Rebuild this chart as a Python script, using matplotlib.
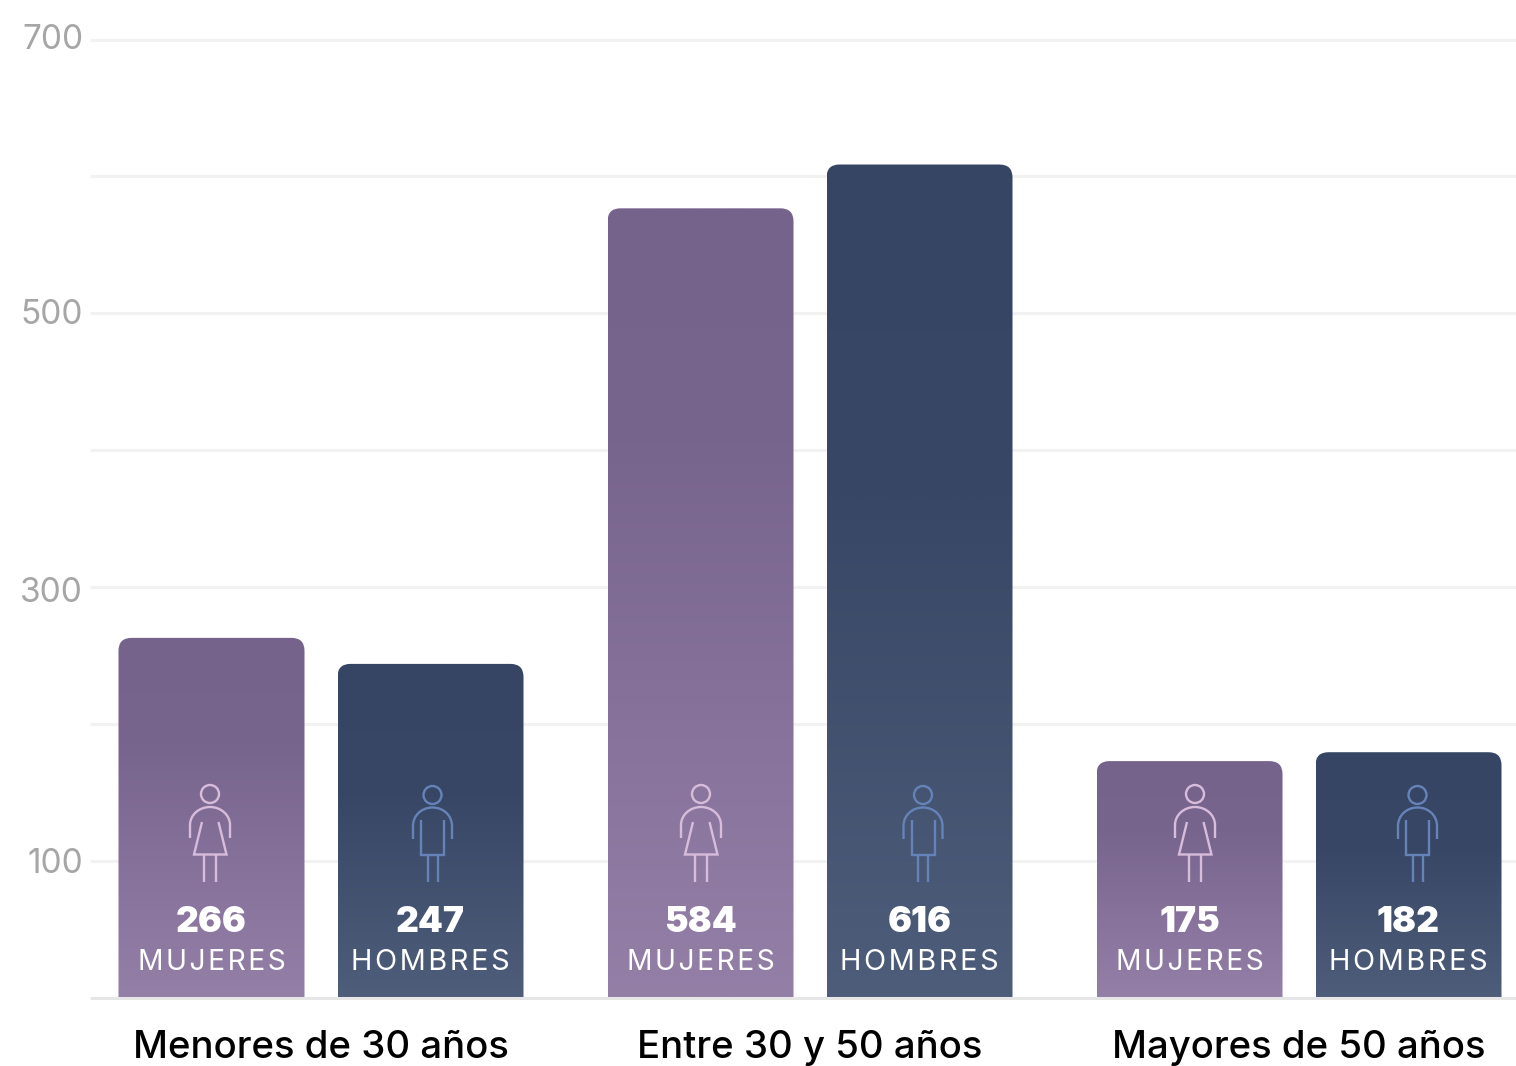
import numpy as np
import matplotlib
matplotlib.use("Agg")
import matplotlib.pyplot as plt
from matplotlib.colors import LinearSegmentedColormap
from matplotlib.path import Path
from matplotlib.patches import PathPatch, Circle
from matplotlib.transforms import Affine2D, ScaledTranslation

# ---------- data ----------
groups = ["Menores de 30 años", "Entre 30 y 50 años", "Mayores de 50 años"]
women_labels = [266, 584, 175]
men_labels = [247, 616, 182]
# heights as drawn against the y axis (the picture's bars sit slightly below their labels)
women_heights = [263, 576.7, 173]
men_heights = [244, 608.7, 179.5]
y_ticks = [100, 200, 300, 400, 500, 600, 700]
y_ticklabels = ["100", "", "300", "", "500", "", "700"]
women_word = "MUJERES"
men_word = "HOMBRES"

W, H = 1516, 1066
DPI = 100
FONT = "Inter"
plt.rcParams["font.family"] = [FONT, "DejaVu Sans"]

fig = plt.figure(figsize=(W / DPI, H / DPI), dpi=DPI, facecolor="white")
ax = fig.add_axes([90 / W, (H - 998) / H, 1426 / W, 958.5 / H])
XLIM = ((90 - 321) / 489, (1516 - 321) / 489)
ax.set_xlim(*XLIM)
ax.set_ylim(0, 700)
for s in ax.spines.values():
    s.set_visible(False)

ax.set_yticks(y_ticks)
ax.set_yticklabels(y_ticklabels, fontsize=24, color="#a6a6a6", fontweight="normal")
ax.tick_params(axis="y", length=0, pad=5)
label_nudge_px = {"100": 1, "300": -2, "500": 2, "700": 3}
for lab in ax.get_yticklabels():
    nudge = label_nudge_px.get(lab.get_text(), 0)
    lab.set_transform(lab.get_transform() + ScaledTranslation(0, nudge / DPI, fig.dpi_scale_trans))
ax.set_xticks(range(len(groups)))
ax.set_xticklabels(groups, fontsize=27.6, color="black", fontweight="medium")
ax.tick_params(axis="x", length=0, pad=23)
for v in y_ticks:
    ax.axhline(v, color="#f2f2f2", lw=2.2, zorder=1, clip_on=False, solid_capstyle="butt")
ax.axhline(0, color="#e6e6e6", lw=2.2, zorder=5, clip_on=False, solid_capstyle="butt")

cm_w = LinearSegmentedColormap.from_list("w", [(0, "#76638b"), (0.3, "#78658e"), (1, "#947fa7")])
cm_m = LinearSegmentedColormap.from_list("m", [(0, "#364564"), (0.4, "#384765"), (1, "#4e5d7a")])
grad = np.linspace(0, 1, 512).reshape(-1, 1)

BAR_W = 186 / 489
OFF = 109.5 / 489
RX, RY = 13 / 489, 13 / (958.5 / 700)


def draw_bar(xc, h, cmap):
    x0, x1 = xc - BAR_W / 2, xc + BAR_W / 2
    verts = [(x0, 0), (x0, h - RY), (x0, h), (x0 + RX, h), (x1 - RX, h), (x1, h), (x1, h - RY), (x1, 0), (x0, 0)]
    codes = [Path.MOVETO, Path.LINETO, Path.CURVE3, Path.CURVE3, Path.LINETO, Path.CURVE3, Path.CURVE3, Path.LINETO, Path.CLOSEPOLY]
    patch = PathPatch(Path(verts, codes), fc="none", ec="none", transform=ax.transData)
    ax.add_patch(patch)
    im = ax.imshow(grad, cmap=cmap, extent=(x0, x1, 0, h), aspect="auto", origin="upper", zorder=3, interpolation="bilinear")
    im.set_clip_path(patch)


px = Affine2D().scale(1, -1).translate(0, H)
LW = 1.7


def stroke(verts, codes, cx, top, color):
    t = Affine2D().translate(cx, top) + px
    fig.add_artist(PathPatch(Path(verts, codes), fc="none", ec=color, lw=LW, transform=t, zorder=6, capstyle="butt", joinstyle="miter"))


def head(cx, top, dy, color):
    t = Affine2D().translate(cx, top) + px
    fig.add_artist(Circle((0, dy), 9, fc="none", ec=color, lw=LW, transform=t, zorder=6))


def woman(cx, top=775, color="#d8bcdc"):
    head(cx, top, 19, color)
    M, L, C = Path.MOVETO, Path.LINETO, Path.CURVE4
    stroke([(-20, 63), (-20, 50), (-20, 40), (-11, 32), (0, 32), (11, 32), (20, 40), (20, 50), (20, 63)],
           [M, L, C, C, C, C, C, C, L], cx, top, color)
    stroke([(-8, 47), (-16, 79.5), (16.5, 79.5), (8.5, 47)], [M, L, L, L], cx, top, color)
    stroke([(-6, 79.5), (-6, 107)], [M, L], cx, top, color)
    stroke([(6, 79.5), (6, 107)], [M, L], cx, top, color)


def man(cx, top=775, color="#6583b8"):
    head(cx, top, 20, color)
    M, L, C = Path.MOVETO, Path.LINETO, Path.CURVE4
    stroke([(-19.5, 64), (-19.5, 51), (-19.5, 40.5), (-11, 32.5), (0, 32.5), (11, 32.5), (19.5, 40.5), (19.5, 51), (19.5, 64)],
           [M, L, C, C, C, C, C, C, L], cx, top, color)
    stroke([(-11.5, 45), (-11.5, 79.5), (11.5, 79.5), (11.5, 45)], [M, L, L, L], cx, top, color)
    stroke([(-5, 79.5), (-5, 107)], [M, L], cx, top, color)
    stroke([(5, 79.5), (5, 107)], [M, L], cx, top, color)


def labels(xc, number, word, size):
    ax.annotate(str(number), (xc, 0), xytext=(0, 76 * 72 / DPI), textcoords="offset points",
                ha="center", va="center", fontsize=25.5, fontweight="black", color="white", zorder=7)
    ax.annotate("\u200a".join(word), (xc, 0), xytext=(0, 35.5 * 72 / DPI), textcoords="offset points",
                ha="center", va="center", fontsize=size, fontweight="normal", color="white", zorder=7)


for i in range(len(groups)):
    draw_bar(i - OFF, women_heights[i], cm_w)
    draw_bar(i + OFF, men_heights[i], cm_m)
    labels(i - OFF, women_labels[i], women_word, 20.3)
    labels(i + OFF, men_labels[i], men_word, 20.8)

for cx in (210, 701, 1195):
    woman(cx)
for cx in (432.5, 923, 1417.5):
    man(cx)

ax.set_xlim(*XLIM)
ax.set_ylim(0, 700)
fig.savefig("out.png", dpi=DPI, facecolor="white")
